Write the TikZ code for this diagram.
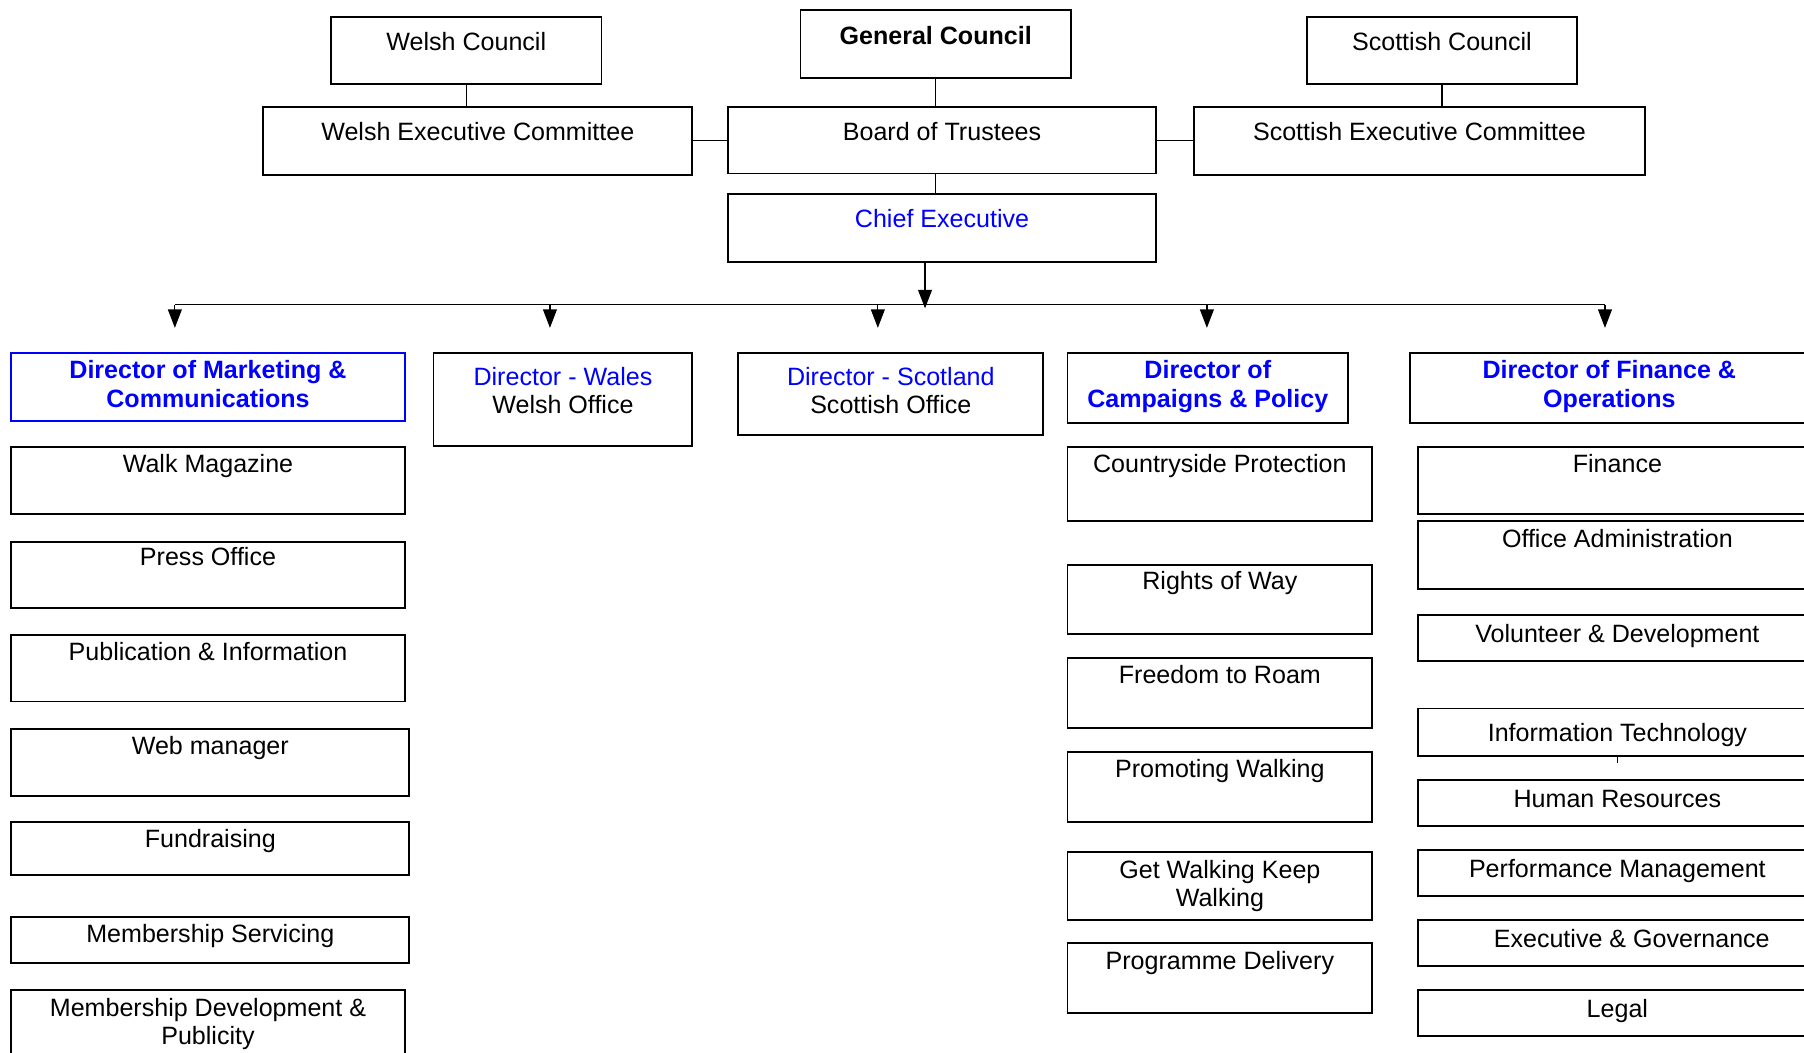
\documentclass[tikz,border=0pt]{standalone}
\usepackage{fontspec}
\setmainfont{Liberation Sans}
\usetikzlibrary{arrows.meta}
\definecolor{dirblue}{RGB}{0,0,255}

\begin{document}
\begin{tikzpicture}[x=0.02cm,y=-0.02cm,
    unit/.style={draw,line width=0.9pt,inner sep=0pt,align=center,
      font=\fontsize{12.4}{13.9}\selectfont,anchor=north west},
    cell/.style n args={3}{minimum width=#1*0.02cm,text height=#3*0.02cm,
      text depth=(#2-#3)*0.02cm},
    head/.style={text=dirblue,font=\fontsize{12.4}{13.9}\selectfont\bfseries},
    link/.style={line width=0.6pt},
    arr/.style={line width=0.6pt,-{Triangle[length=0.32cm,width=0.24cm]}}]
    \useasboundingbox (0,0) rectangle (1568,915);

    % councils and committees
    \node[unit,cell={235}{58}{29}] (wc) at (287,14) {Welsh Council};
    \node[unit,cell={235}{59}{30},font=\fontsize{12.4}{13.9}\selectfont\bfseries] (gc) at (695,8) {General Council};
    \node[unit,cell={235}{58}{29}] (sc) at (1135,14) {Scottish Council};
    \node[unit,cell={373}{59}{29}] (wec) at (228,92) {Welsh Executive Committee};
    \node[unit,cell={372}{58}{29}] (board) at (632,92) {Board of Trustees};
    \node[unit,cell={392}{59}{29}] (sec) at (1037,92) {Scottish Executive Committee};
    \node[unit,cell={372}{59}{29},text=dirblue] (chief) at (632,168) {Chief Executive};

    \draw[link] (wc.south) -- (wc.south |- wec.north);
    \draw[link] (gc.south) -- (gc.south |- board.north);
    \draw[link] (sc.south) -- (sc.south |- sec.north);
    \draw[link] (wec.east) -- (wec.east -| board.west);
    \draw[link] (board.east) -- (board.east -| sec.west);
    \draw[link] (gc.south |- board.south) -- (gc.south |- chief.north);

    % directors
    \node[unit,head,draw=dirblue,cell={342}{59}{47}] (dmkt) at (9,306) {Director of Marketing \&\\Communications};
    \node[unit,cell={225}{81}{53}] (dwal) at (376,306) {{\color{dirblue}Director - Wales}\\Welsh Office};
    \node[unit,cell={265}{71}{53}] (dsco) at (641,306) {{\color{dirblue}Director - Scotland}\\Scottish Office};
    \node[unit,head,cell={244}{61}{47}] (dcam) at (927,306) {Director of\\Campaigns \& Policy};
    \node[unit,head,cell={346}{61}{47}] (dfin) at (1225,306) {Director of Finance \&\\Operations};

    \coordinate (bus) at (804,265);
    \coordinate (bustip) at (804,268);
    \foreach \x/\n in {152/a,478/b,763/c,1049/d,1395/e}
        \coordinate (drop\n) at (\x,285);
    \draw[link] (dropa |- bus) -- (drope |- bus);
    \draw[arr] (chief.south -| bustip) -- (bustip);
    \foreach \n in {a,b,c,d,e}
        \draw[arr] (drop\n |- bus) -- (drop\n);

    % marketing
    \node[unit,cell={342}{58}{22}] (walk) at (9,388) {Walk Magazine};
    \node[unit,cell={342}{58}{21}] (press) at (9,470) {Press Office};
    \node[unit,cell={342}{58}{22}] (pubinfo) at (9,551) {Publication \& Information};
    \node[unit,cell={346}{58}{22}] (web) at (9,633) {Web manager};
    \node[unit,cell={346}{46}{22}] (fund) at (9,714) {Fundraising};
    \node[unit,cell={346}{40}{22}] (memserv) at (9,796) {Membership Servicing};
    \node[unit,cell={342}{70}{47}] (memdev) at (9,860) {Membership Development \&\\Publicity};

    % campaigns
    \node[unit,cell={265}{64}{22}] (country) at (927,388) {Countryside Protection};
    \node[unit,cell={265}{60}{22}] (rights) at (927,490) {Rights of Way};
    \node[unit,cell={265}{61}{22}] (roam) at (927,571) {Freedom to Roam};
    \node[unit,cell={265}{61}{22}] (promo) at (927,653) {Promoting Walking};
    \node[unit,cell={265}{59}{47}] (getwalk) at (927,740) {Get Walking Keep\\Walking};
    \node[unit,cell={265}{61}{23}] (progdel) at (927,819) {Programme Delivery};

    % finance
    \node[unit,cell={346}{58}{22}] (finance) at (1232,388) {Finance};
    \node[unit,cell={346}{59}{23}] (office) at (1232,452) {Office Administration};
    \node[unit,cell={346}{40}{24}] (volunteer) at (1232,534) {Volunteer \& Development};
    \node[unit,cell={346}{41}{29}] (infotech) at (1232,615) {Information Technology};
    \node[unit,cell={346}{40}{24}] (hr) at (1232,677) {Human Resources};
    \node[unit,cell={346}{40}{24}] (perf) at (1232,738) {Performance Management};
    \node[unit,cell={346}{40}{24}] (execgov) at (1232,799) {\hspace*{0.5cm}Executive \& Governance};
    \node[unit,cell={346}{40}{24}] (legal) at (1232,860) {Legal};
    \draw[link] (infotech.south) -- ++(0,6);
\end{tikzpicture}
\end{document}
